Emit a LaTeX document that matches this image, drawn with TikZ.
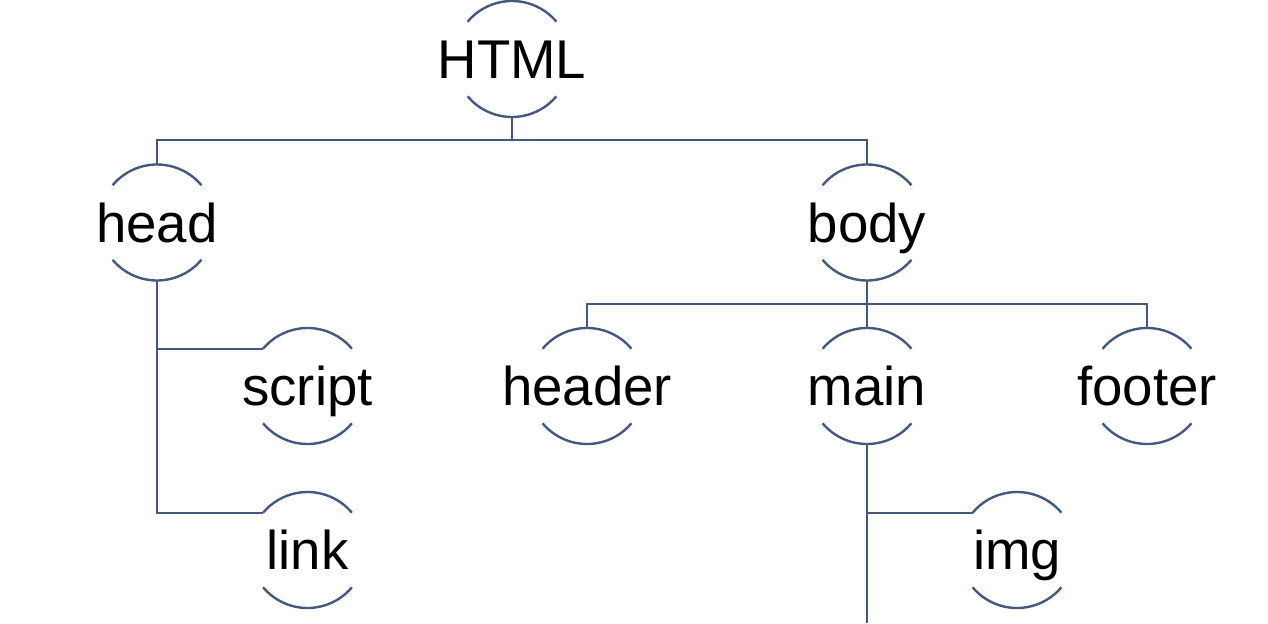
\documentclass[tikz,border=0pt]{standalone}
\usepackage{fontspec}
\setmainfont{Liberation Sans}
\definecolor{treeblue}{RGB}{68,88,128}
\begin{document}
\begin{tikzpicture}[x=0.5pt,y=0.5pt,
    tree node/.style={circle,minimum size=58pt,inner sep=0pt,outer sep=0pt,
      text height=19.5pt,text depth=0pt,font=\fontsize{27.3}{32}\selectfont},
    tree line/.style={draw=treeblue,line width=1.2pt}]
    \useasboundingbox (0,0) rectangle (1268,623);

    % Define vertices
    \node[tree node] (html) at (512,564) {\makebox[0pt]{HTML}};
    \node[tree node] (head) at (157,400.5) {\makebox[0pt]{head}};
    \node[tree node] (body) at (867,400.5) {\makebox[0pt]{body}};
    \node[tree node] (script) at (307.5,237) {\makebox[0pt]{script}};
    \node[tree node] (link) at (307.5,73) {\makebox[0pt]{link}};
    \node[tree node] (header) at (587,237) {\makebox[0pt]{header}};
    \node[tree node] (main) at (867,237) {\makebox[0pt]{main}};
    \node[tree node] (footer) at (1147,237) {\makebox[0pt]{footer}};
    \node[tree node] (img) at (1017,73) {\makebox[0pt]{img}};
    \coordinate (bottom) at (0,0);

    % Draw half circles
    \foreach \n in {html,head,body,script,link,header,main,footer,img}
        \draw[tree line] (\n.40) arc[start angle=40,end angle=140,radius=29pt]
                         (\n.220) arc[start angle=220,end angle=320,radius=29pt];

    % Draw edges
    \draw[tree line] (html.south) -- ++(0,-23) coordinate (top bar);
    \draw[tree line] (head.north) |- (top bar) -| (body.north);
    \draw[tree line] (body.south) -- ++(0,-23.5) coordinate (body bar);
    \draw[tree line] (header.north) |- (body bar) -| (footer.north);
    \draw[tree line] (body bar) -- (main.north);
    \draw[tree line] (head.south) |- (link.140);
    \draw[tree line] (head.south |- script.140) -- (script.140);
    \draw[tree line] (main.south) -- (main.south |- bottom);
    \draw[tree line] (main.south |- img.140) -- (img.140);

\end{tikzpicture}
\end{document}
